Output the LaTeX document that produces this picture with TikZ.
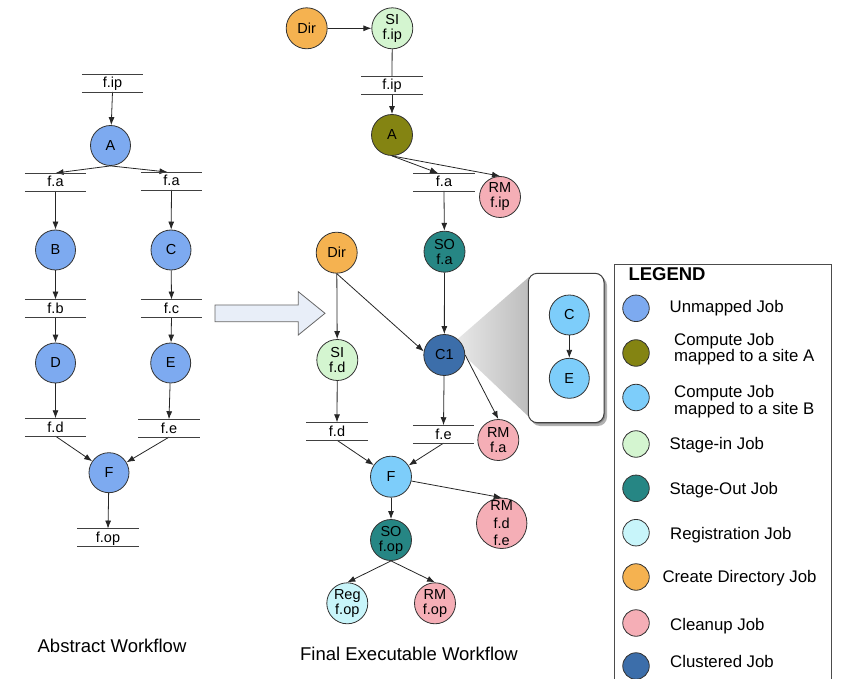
\documentclass[tikz,border=0pt]{standalone}
\usepackage{fontspec}
\setmainfont{Liberation Sans}
\usetikzlibrary{arrows.meta}
\newcommand{\myfs}[2]{\fontsize{#1}{#2}\selectfont}
\definecolor{cUnm}{RGB}{125,170,240}
\definecolor{cA}{RGB}{132,132,18}
\definecolor{cB}{RGB}{125,205,250}
\definecolor{cSI}{RGB}{212,245,208}
\definecolor{cSO}{RGB}{38,134,132}
\definecolor{cReg}{RGB}{200,245,250}
\definecolor{cDir}{RGB}{245,178,80}
\definecolor{cRM}{RGB}{245,174,182}
\definecolor{cCl}{RGB}{60,110,170}
\definecolor{cArrow}{RGB}{232,238,248}
\begin{document}
\begin{tikzpicture}[x=1pt,y=-1pt,
  job/.style={circle,draw=black!80,line width=0.8pt,minimum size=40pt,inner sep=0pt,font=\myfs{14.5}{15},align=center},
  mjob/.style={job,minimum size=41pt},
  filebox/.style={minimum width=61pt,minimum height=17.5pt,inner sep=0pt,text height=12pt,text depth=2pt,font=\myfs{14.5}{15}},
  fileline/.style={draw=black!75,line width=0.8pt},
  arr/.style={draw=black!85,line width=0.8pt,-{Latex[length=8pt,width=6pt]}},
  link/.style={draw=black!85,line width=0.8pt},
  legcirc/.style={circle,draw=black!80,line width=0.8pt,minimum size=26.5pt,inner sep=0pt},
  legtext/.style={anchor=west,font=\myfs{16.8}{15},align=left,inner sep=0pt},
  ttl/.style={font=\myfs{18.5}{20},inner sep=0pt}
]
\useasboundingbox (0,0) rectangle (844,679);

% ---------------- Abstract workflow ----------------
\node[filebox] (lfip) at (112.5,83) {f.ip};
\node[job,fill=cUnm] (lA) at (110.5,145.5) {A};
\node[filebox] (lfa1) at (55.5,182) {f.a};
\node[filebox] (lfa2) at (171.5,181) {f.a};
\node[job,fill=cUnm] (lB) at (55.5,250) {B};
\node[job,fill=cUnm] (lC) at (171,250) {C};
\node[filebox] (lfb) at (55.5,308.5) {f.b};
\node[filebox] (lfc) at (171.5,308.5) {f.c};
\node[job,fill=cUnm] (lD) at (55.5,363) {D};
\node[job,fill=cUnm] (lE) at (170.7,363) {E};
\node[filebox] (lfd) at (55.5,427.2) {f.d};
\node[filebox] (lfe) at (169,428.2) {f.e};
\node[job,fill=cUnm] (lF) at (109,472.7) {F};
\node[filebox] (lfop) at (108,537.5) {f.op};
\node[ttl] (lttl) at (112,646) {Abstract Workflow};

\draw[arr] (lfip.south) -- (lA);
\draw[arr] (lA.south) -- (lfa1.north);
\draw[arr] (lA.south) -- ([xshift=-4pt]lfa2.north);
\draw[arr] (lfa1.south) -- (lB);
\draw[arr] (lfa2.south) -- (lC);
\draw[arr] (lB) -- (lfb.north);
\draw[arr] (lC) -- (lfc.north);
\draw[arr] (lfb.south) -- (lD);
\draw[arr] (lfc.south) -- (lE);
\draw[arr] (lD) -- (lfd.north);
\draw[arr] (lE) -- (lfe.north);
\draw[arr] (lfd.south) -- (lF);
\draw[arr] (lfe.south) -- (lF);
\draw[arr] (lF) -- (lfop.north);

% ---------------- big arrow ----------------
\draw[fill=cArrow,draw=black!60,line width=0.8pt]
  (215,305) -- (298.3,305) -- (298.3,291.7) -- (325,313.3) -- (298.3,335) -- (298.3,321.7) -- (215,321.7) -- cycle;

% ---------------- callout ----------------
\shade[left color=black!8,right color=black!26] (452,344) -- (529,277) -- (529,417) -- cycle;
\fill[black!30,rounded corners=9pt] (531,276.5) rectangle (607,426);
\fill[black!45,rounded corners=9pt] (529.5,274.5) rectangle (605.3,424);
\draw[fill=white,draw=black!75,line width=1pt,rounded corners=9pt] (528.3,273.3) rectangle (604,422.7);
\node[job,fill=cB] (cC) at (569.3,315) {C};
\node[job,fill=cB] (cE) at (569.3,378.3) {E};
\draw[arr] (cC) -- (cE);

% ---------------- Final executable workflow ----------------
\node[mjob,fill=cDir] (mDir1) at (306.7,28.3) {Dir};
\node[mjob,fill=cSI] (mSI1) at (392.3,28.3) {SI\\f.ip};
\node[filebox] (mfip) at (392,85) {f.ip};
\node[mjob,fill=cA] (mA) at (392,135) {A};
\node[filebox] (mfa) at (444,182) {f.a};
\node[mjob,fill=cRM] (mRM1) at (500,197) {RM\\f.ip};
\node[mjob,fill=cSO] (mSOa) at (444.5,251.7) {SO\\f.a};
\node[mjob,fill=cDir] (mDir2) at (336.7,252.7) {Dir};
\node[mjob,fill=cSI] (mSId) at (337.3,360) {SI\\f.d};
\node[mjob,fill=cCl] (mC1) at (444.3,355) {C1};
\node[filebox] (mfd) at (337,431.3) {f.d};
\node[filebox] (mfe) at (443.5,434.2) {f.e};
\node[mjob,fill=cRM] (mRMa) at (498.3,440) {RM\\f.a};
\node[mjob,fill=cB] (mF) at (391,476.7) {F};
\node[mjob,fill=cRM,font=\myfs{14.5}{17.5}] (mRMde) at (501.7,523.3) {RM\\f.d\\f.e};
\node[mjob,fill=cSO] (mSOop) at (391,540) {SO\\f.op};
\node[mjob,fill=cReg] (mReg) at (347.3,603.3) {Reg\\f.op};
\node[mjob,fill=cRM] (mRMop) at (435,603.3) {RM\\f.op};
\node[ttl] (mttl) at (409,654) {Final Executable Workflow};

\draw[arr] (mDir1) -- (mSI1);
\draw[link] (mSI1) -- (mfip.north);
\draw[arr] (mfip.south) -- (mA);
\draw[arr] (mA.south) -- ([xshift=-6pt]mfa.north);
\draw[arr] (mA.south) -- (mRM1.north);
\draw[arr] (mfa.south) -- (mSOa);
\draw[arr] (mSOa) -- (mC1);
\draw[arr] (mDir2) -- (mSId);
\draw[arr] (mDir2.south) -- (mC1.170);
\draw[arr] (mSId) -- (mfd.north);
\draw[arr] (mC1) -- (mfe.north);
\draw[arr] (mC1.east) -- (mRMa.north);
\draw[arr] (mfd.south) -- (mF);
\draw[arr] (mfe.south) -- (mF);
\draw[arr] (mF.-12) -- (mRMde.north);
\draw[arr] (mF) -- (mSOop);
\draw[arr] (mSOop.south) -- (mReg.north);
\draw[arr] (mSOop.south) -- (mRMop.north);

% file lines
\foreach \n in {lfip,lfa1,lfa2,lfb,lfc,lfd,lfe,lfop,mfip,mfa,mfd,mfe}
  \draw[fileline] (\n.north west) -- (\n.north east) (\n.south west) -- (\n.south east);

% ---------------- Legend ----------------
\draw[draw=black!70,line width=0.9pt] (614,679) -- (614,264) -- (831.7,264) -- (831.7,679);
\node[anchor=base west,inner sep=0pt,font=\bfseries\myfs{18.5}{20}] (legttl) at (628.3,281) {LEGEND};
\node[legcirc,fill=cUnm] (g1) at (636,308.3) {};
\node[legtext] (t1) at (669.5,308.5) {Unmapped Job};
\node[legcirc,fill=cA] (g2) at (636,353) {};
\node[legtext] (t2) at (674,349.3) {Compute Job\\mapped to a site A};
\node[legcirc,fill=cB] (g3) at (636,397.5) {};
\node[legtext] (t3) at (674,401.5) {Compute Job\\mapped to a site B};
\node[legcirc,fill=cSI] (g4) at (636,444) {};
\node[legtext] (t4) at (669.5,445.5) {Stage-in Job};
\node[legcirc,fill=cSO] (g5) at (636,488.3) {};
\node[legtext] (t5) at (669.5,490.5) {Stage-Out Job};
\node[legcirc,fill=cReg] (g6) at (636,532.7) {};
\node[legtext] (t6) at (670,535) {Registration Job};
\node[legcirc,fill=cDir] (g7) at (636,577) {};
\node[legtext] (t7) at (662.3,578) {Create Directory Job};
\node[legcirc,fill=cRM] (g8) at (636,623) {};
\node[legtext] (t8) at (670,626) {Cleanup Job};
\node[legcirc,fill=cCl] (g9) at (636,666) {};
\node[legtext] (t9) at (670,661.5) {Clustered Job};
\end{tikzpicture}
\end{document}
